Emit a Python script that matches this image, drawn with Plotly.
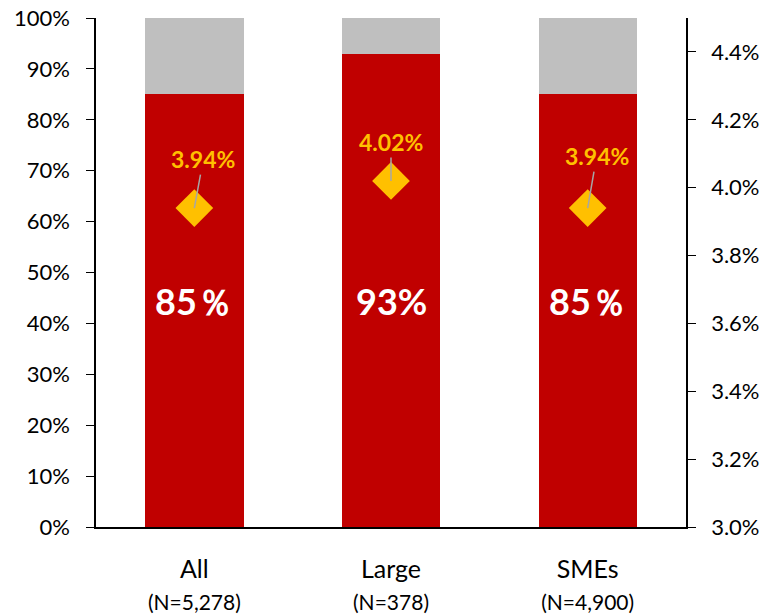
import plotly.graph_objects as go

categories = ["All", "Large", "SMEs"]
n_labels = ["(N=5,278)", "(N=378)", "(N=4,900)"]
share = [85, 93, 85]
share_text = ["85％", "93%", "85％"]
rate = [3.94, 4.02, 3.94]
rate_text = ["3.94%", "4.02%", "3.94%"]
label_offset = [(9, -49), (0, -39), (9, -52)]
rate_ticks = [3.0, 3.2, 3.4, 3.6, 3.8, 4.0, 4.2, 4.4]

rest = [100 - v for v in share]
FONT = "Lato, 'Noto Sans', sans-serif"

fig = go.Figure()

fig.add_trace(go.Bar(
    x=categories, y=share, marker=dict(color="#C00000", line_width=0),
    width=0.5, showlegend=False, hoverinfo="skip"
))
fig.add_trace(go.Bar(
    x=categories, y=rest, marker=dict(color="#BFBFBF", line_width=0),
    width=0.5, showlegend=False, hoverinfo="skip"
))

# diamonds on secondary axis
fig.add_trace(go.Scatter(
    x=categories, y=rate, yaxis="y2", mode="markers",
    marker=dict(symbol="diamond", size=29, color="#FFC000"),
    showlegend=False
))

# big white labels in the bars
for c, t in zip(categories, share_text):
    fig.add_annotation(
        x=c, y=44.5, text=f"<b>{t}</b>", showarrow=False,
        font=dict(family=FONT, size=36, color="white")
    )

# orange labels with grey leader lines
for c, r, t, (ax, ay) in zip(categories, rate, rate_text, label_offset):
    fig.add_annotation(
        x=c, y=r, yref="y2", text=f"<b>{t}</b>",
        showarrow=True, arrowhead=0, arrowwidth=1.5, arrowcolor="#A6A6A6",
        ax=ax, ay=ay, standoff=0,
        font=dict(family=FONT, size=23, color="#FFC000")
    )

ticktext = [f"{c}<br><span style='font-size:21px'>{n}</span>"
            for c, n in zip(categories, n_labels)]

fig.update_layout(
    barmode="stack",
    width=766, height=616,
    margin=dict(l=96, r=80, t=18, b=89),
    plot_bgcolor="white", paper_bgcolor="white",
    font=dict(family=FONT, size=22, color="black"),
    xaxis=dict(
        tickvals=categories, ticktext=ticktext,
        tickfont=dict(size=25),
        showline=True, linecolor="black", linewidth=1.5,
        showgrid=False, ticks="", ticklabelstandoff=19,
        automargin=False,
    ),
    yaxis=dict(
        range=[0, 100], dtick=10, ticksuffix="%",
        showline=True, linecolor="black", linewidth=1.5,
        ticks="outside", ticklen=8, tickcolor="black",
        ticklabelstandoff=12,
        showgrid=False, zeroline=False, automargin=False,
    ),
    yaxis2=dict(
        overlaying="y", side="right",
        range=[3.0, 4.5], tickvals=rate_ticks,
        ticktext=[f"{v:.1f}%" for v in rate_ticks],
        showline=True, linecolor="black", linewidth=1.5,
        ticks="outside", ticklen=8, tickcolor="black",
        ticklabelstandoff=11,
        showgrid=False, zeroline=False, automargin=False,
    ),
)

# drop the default 8px body margin so the figure fills the window
fig.write_html(
    "out.html",
    config={"displayModeBar": False},
    post_script="document.body.style.margin='0';",
)
